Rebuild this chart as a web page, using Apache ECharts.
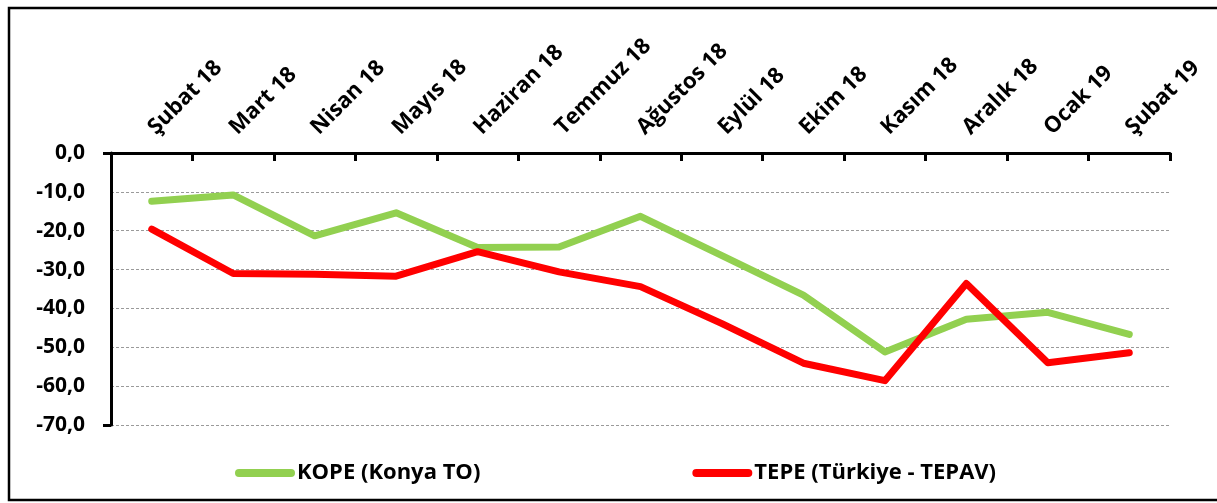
<!DOCTYPE html>
<html>
<head>
<meta charset="utf-8">
<script src="https://cdn.jsdelivr.net/npm/echarts@6/dist/echarts.min.js"></script>
<style>html,body{margin:0;padding:0;background:#fff}#c{width:1217px;height:503px}</style>
</head>
<body>
<div id="c"></div>
<script>
const categories = ['Şubat 18','Mart 18','Nisan 18','Mayıs 18','Haziran 18','Temmuz 18','Ağustos 18','Eylül 18','Ekim 18','Kasım 18','Aralık 18','Ocak 19','Şubat 19'];
const kope = [-12.4, -10.8, -21.3, -15.4, -24.3, -24.2, -16.3, -26.4, -36.6, -51.2, -42.8, -41.0, -46.7];
const tepe = [-19.6, -31.0, -31.2, -31.7, -25.4, -30.6, -34.4, -43.9, -54.1, -58.6, -33.6, -54.0, -51.4];
const seriesNames = ['KOPE (Konya TO)', 'TEPE (Türkiye - TEPAV)'];
const yMin = -70, yMax = 0, yStep = 10;

const FONT = '"Open Sans", sans-serif';
const chart = echarts.init(document.getElementById('c'), null, {renderer: 'canvas'});
const pillIcon = 'path://M4,0 L56,0 A4,4 0 0 1 56,8 L4,8 A4,4 0 0 1 4,0 Z';
chart.setOption({
  animation: false,
  backgroundColor: '#fff',
  grid: {left: 111, right: 47, top: 153, bottom: 78, containLabel: false},
  graphic: [{
    type: 'rect', silent: true, z: 100,
    shape: {x: 9, y: 8, width: 1230, height: 492},
    style: {fill: 'none', stroke: '#000', lineWidth: 2.5}
  }],
  legend: {
    left: 230, top: 457,
    itemWidth: 60, itemHeight: 8, itemGap: 212,
    icon: pillIcon,
    textStyle: {fontFamily: FONT, fontWeight: 'bold', fontSize: 22, color: '#000', padding: [0,0,0,-3]},
    data: seriesNames
  },
  xAxis: {
    type: 'category', position: 'top', data: categories, boundaryGap: true,
    axisLine: {show: true, onZero: false, lineStyle: {color: '#000', width: 3}},
    axisTick: {show: true, inside: true, length: 8, lineStyle: {color: '#000', width: 3}},
    axisLabel: {rotate: -45, margin: 22, interval: 0, color: '#000', fontFamily: FONT, fontWeight: 'bold', fontSize: 22},
    splitLine: {show: false}
  },
  yAxis: [{
    type: 'value', min: yMin, max: yMax, interval: yStep,
    axisLine: {show: true, lineStyle: {color: '#000', width: 3}},
    axisTick: {show: false},
    axisLabel: {margin: 26, color: '#000', fontFamily: FONT, fontWeight: 'bold', fontSize: 21,
      formatter: v => v.toFixed(1).replace('.', ',')},
    splitLine: {show: true, lineStyle: {color: '#9a9a9a', width: 1, type: [3, 2]}}
  }, {
    type: 'value', position: 'left', min: yMin, max: yMax, interval: yMax - yMin,
    axisLine: {show: false},
    axisTick: {show: true, length: 8, lineStyle: {color: '#000', width: 3}},
    axisLabel: {show: false},
    splitLine: {show: false}
  }],
  series: [
    {name: seriesNames[0], type: 'line', data: kope, showSymbol: false, symbol: 'none',
     itemStyle: {color: '#92D050'},
     lineStyle: {color: '#92D050', width: 7, cap: 'round', join: 'round'}, z: 3},
    {name: seriesNames[1], type: 'line', data: tepe, showSymbol: false, symbol: 'none',
     itemStyle: {color: '#FF0000'},
     lineStyle: {color: '#FF0000', width: 7, cap: 'round', join: 'round'}, z: 4}
  ]
});
</script>
</body>
</html>
